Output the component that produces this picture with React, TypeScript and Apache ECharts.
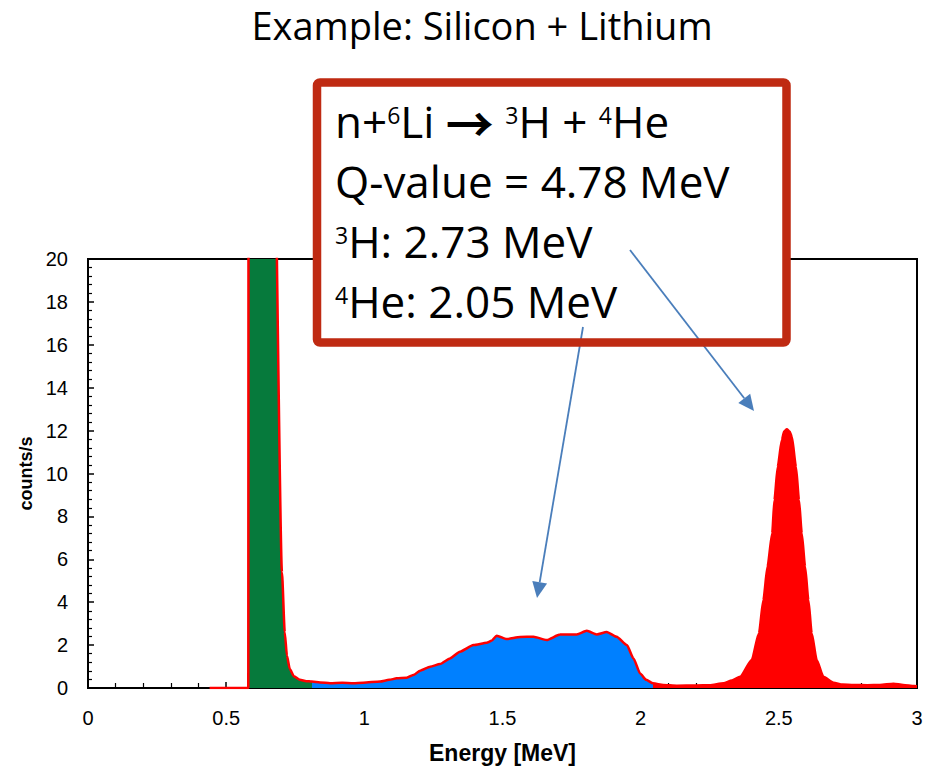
import React, { useEffect, useRef } from "react";
import * as echarts from "echarts";

// Measured spectrum: energy [MeV] and count rate [counts/s]
const energy = [
  0.44, 0.5, 0.58, 0.581, 0.67, 0.702, 0.712, 0.72, 0.73, 0.745, 0.767, 0.79,
  0.81, 0.84, 0.876, 0.92, 0.96, 0.996, 1.057, 1.09, 1.117, 1.153, 1.18, 1.202,
  1.238, 1.274, 1.31, 1.346, 1.395, 1.443, 1.46, 1.479, 1.515, 1.564, 1.612,
  1.66, 1.708, 1.769, 1.805, 1.841, 1.877, 1.913, 1.95, 1.974, 1.998, 2.02,
  2.045, 2.082, 2.131, 2.2, 2.25, 2.3, 2.33, 2.36, 2.402, 2.428, 2.444, 2.459,
  2.476, 2.484, 2.496, 2.511, 2.519, 2.529, 2.539, 2.547, 2.562, 2.573, 2.583,
  2.595, 2.607, 2.619, 2.637, 2.661, 2.698, 2.73, 2.77, 2.82, 2.866, 2.915,
  2.95, 2.99, 3.0,
];
const counts = [
  0, 0, 0, 30, 30, 5.4, 2.6, 1.5, 0.9, 0.55, 0.38, 0.32,
  0.3, 0.26, 0.22, 0.24, 0.22, 0.25, 0.3, 0.38, 0.45, 0.48, 0.62, 0.81,
  0.99, 1.12, 1.38, 1.69, 2.0, 2.11, 2.2, 2.44, 2.28, 2.38, 2.39,
  2.24, 2.49, 2.5, 2.67, 2.5, 2.61, 2.39, 2.0, 1.38, 0.68, 0.38,
  0.22, 0.14, 0.11, 0.12, 0.13, 0.22, 0.35, 0.53, 1.31, 2.55, 4.1, 5.66,
  7.21, 8.76, 10.32, 11.57, 11.96, 12.06, 11.96, 11.72, 10.32, 8.76, 7.21,
  5.66, 4.1, 2.55, 1.31, 0.53, 0.25, 0.16, 0.14, 0.13, 0.14, 0.2,
  0.14, 0.09, 0.08,
];

// Energy windows for the coloured regions
const siliconStart = 0.5805;
const heliumStart = 0.81;
const tritonStart = 2.045;

const titleText = "Example: Silicon + Lithium";
const reactionLines = [
  "n+{s|6}Li {a|\u2192} {s|3}H + {s|4}He",
  "Q-value = 4.78 MeV",
  "{s|3}H: 2.73 MeV",
  "{s|4}He: 2.05 MeV",
];

const GREEN = "#067A3C";
const BLUE = "#0080FF";
const RED = "#FF0000";
const BOX = "#BF2A12";
const ARROW = "#4A7EBB";

function arrow(x1: number, y1: number, x2: number, y2: number) {
  const a = Math.atan2(y2 - y1, x2 - x1);
  const len = 16;
  const half = 7.5;
  const bx = x2 - len * Math.cos(a);
  const by = y2 - len * Math.sin(a);
  const nx = -Math.sin(a);
  const ny = Math.cos(a);
  return [
    {
      type: "line",
      z: 120,
      shape: { x1, y1, x2: bx, y2: by },
      style: { stroke: ARROW, lineWidth: 1.8 },
    },
    {
      type: "polygon",
      z: 120,
      shape: {
        points: [
          [x2, y2],
          [bx + nx * half, by + ny * half],
          [bx - nx * half, by - ny * half],
        ],
      },
      style: { fill: ARROW },
    },
  ];
}

export default function App() {
  const ref = useRef<HTMLDivElement>(null);

  useEffect(() => {
    if (!ref.current) return;
    const chart = echarts.init(ref.current, null, { renderer: "svg" });
    const spectrum = energy.map((e, i) => [e, counts[i]]);
    const axisFont = { fontFamily: "Liberation Sans", color: "#000" };

    chart.setOption({
      animation: false,
      backgroundColor: "#fff",
      grid: {
        left: 88,
        right: 20,
        top: 259,
        bottom: 81,
        show: true,
        borderColor: "#000",
        borderWidth: 2,
        backgroundColor: "transparent",
      },
      xAxis: {
        type: "value",
        min: 0,
        max: 3,
        interval: 0.5,
        name: "Energy [MeV]",
        nameLocation: "middle",
        nameGap: 53,
        nameTextStyle: { ...axisFont, fontSize: 23, fontWeight: "bold" },
        axisLine: { lineStyle: { color: "#000", width: 2 } },
        axisTick: { inside: true, length: 6, lineStyle: { color: "#000", width: 1.5 } },
        minorTick: { show: true, splitNumber: 5, length: 5, lineStyle: { color: "#000", width: 1.2 } },
        axisLabel: { ...axisFont, fontSize: 20, margin: 20 },
        splitLine: { show: false },
      },
      yAxis: {
        type: "value",
        min: 0,
        max: 20,
        interval: 2,
        name: "counts/s",
        nameLocation: "middle",
        nameRotate: 90,
        nameGap: 52,
        nameTextStyle: { ...axisFont, fontSize: 18, fontWeight: "bold" },
        axisLine: { lineStyle: { color: "#000", width: 2 } },
        axisTick: { inside: true, length: 6, lineStyle: { color: "#000", width: 1.5 } },
        minorTick: { show: true, splitNumber: 5, length: 4, lineStyle: { color: "#000", width: 1.2 } },
        axisLabel: { ...axisFont, fontSize: 20, margin: 20 },
        splitLine: { show: false },
      },
      visualMap: {
        show: false,
        type: "piecewise",
        seriesIndex: 0,
        dimension: 0,
        pieces: [
          { lt: siliconStart, color: "rgba(255,255,255,0)" },
          { gte: siliconStart, lt: heliumStart, color: GREEN },
          { gte: heliumStart, lt: tritonStart, color: BLUE },
          { gte: tritonStart, color: RED },
        ],
      },
      series: [
        {
          type: "line",
          data: spectrum,
          symbol: "none",
          smooth: 0.2,
          smoothMonotone: "x",
          lineStyle: { width: 0 },
          areaStyle: { opacity: 1 },
          z: 2,
        },
        {
          type: "line",
          data: spectrum,
          symbol: "none",
          smooth: 0.2,
          smoothMonotone: "x",
          lineStyle: { color: RED, width: 2.5 },
          z: 3,
        },
      ],
      graphic: [
        {
          type: "text",
          x: 482,
          y: 25,
          style: {
            text: titleText,
            fontFamily: "Open Sans",
            fontSize: 38,
            lineHeight: 40,
            fill: "#000",
            align: "center",
            verticalAlign: "middle",
          },
        },
        {
          type: "rect",
          z: 110,
          shape: { x: 317, y: 82.5, width: 469.5, height: 260, r: 3 },
          style: { fill: "#fff", stroke: "none" },
        },
        ...arrow(583, 327, 537, 598),
        ...arrow(630, 250, 754, 411),
        {
          type: "rect",
          z: 130,
          shape: { x: 317, y: 82.5, width: 469.5, height: 260, r: 3 },
          style: { fill: "none", stroke: BOX, lineWidth: 8.5 },
        },
        {
          type: "text",
          z: 130,
          x: 335,
          y: 91,
          style: {
            text: reactionLines.join("\n"),
            fontFamily: "Open Sans",
            fontSize: 44,
            lineHeight: 60,
            fill: "#000",
            align: "left",
            verticalAlign: "top",
            rich: {
              s: {
                fontFamily: "Open Sans",
                fontSize: 23,
                padding: [12, 0, 0, 0],
                verticalAlign: "top",
                fill: "#000",
              },
              a: {
                fontFamily: "Noto Sans CJK JP",
                fontSize: 48,
                fontWeight: "bold",
                lineHeight: 60,
                fill: "#000",
              },
            },
          },
        },
      ],
    });

    return () => chart.dispose();
  }, []);

  return (
    <div
      ref={ref}
      style={{ position: "absolute", left: 0, top: 0, width: 937, height: 769 }}
    />
  );
}
